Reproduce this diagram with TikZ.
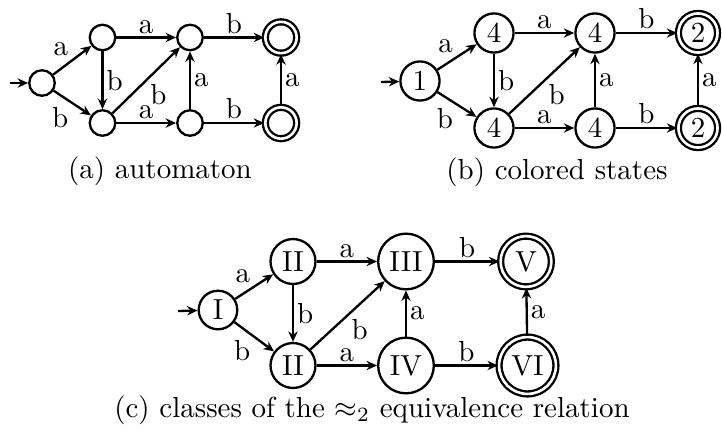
\documentclass[tikz,border=0pt]{standalone}
\usetikzlibrary{arrows.meta}
\begin{document}
\begin{tikzpicture}[x=0.3448pt,y=-0.3448pt,
  >={Stealth[length=3.6pt,width=3.2pt]},
  st/.style={circle, draw, thick, inner sep=0pt},
  fin/.style={st, double, double distance=0.9pt},
  lab/.style={inner sep=1pt, auto},
  conn/.style={thick,->}
]
\useasboundingbox (0,0) rectangle (722,435);

% (a) automaton
\node[st, minimum size=8.8pt] (a0) at (42,83) {};
\node[st, minimum size=8.8pt] (a1) at (102.5,37.5) {};
\node[st, minimum size=8.8pt] (a2) at (102.5,123) {};
\node[st, minimum size=8.8pt] (a3) at (190,37.5) {};
\node[st, minimum size=8.8pt] (a4) at (190,123) {};
\node[fin, minimum size=10.8pt] (a5) at (281,37.5) {};
\node[fin, minimum size=10.8pt] (a6) at (281,123) {};
\coordinate (ain) at (10,83);
\draw[conn] (ain) -- (a0);
\draw[conn] (a0) -- node[lab] {a} (a1);
\draw[conn] (a0) -- node[lab, swap] {b} (a2);
\draw[conn] (a1) -- node[lab] {a} (a3);
\draw[conn] (a1) -- node[lab] {b} (a2);
\draw[conn] (a2) -- node[lab, swap] {b} (a3);
\draw[conn] (a2) -- node[lab] {a} (a4);
\draw[conn] (a4) -- node[lab, swap] {a} (a3);
\draw[conn] (a4) -- node[lab] {b} (a6);
\draw[conn] (a3) -- node[lab] {b} (a5);
\draw[conn] (a6) -- node[lab, swap] {a} (a5);
\node[anchor=base] (capa) at (160,178) {(a) automaton};

% (b) colored states
\node[st, minimum size=13.5pt] (b0) at (420,81) {1};
\node[st, minimum size=13.5pt] (b1) at (494,33) {4};
\node[st, minimum size=13.5pt] (b2) at (494,128) {4};
\node[st, minimum size=13.5pt] (b3) at (595,33) {4};
\node[st, minimum size=13.5pt] (b4) at (595,128) {4};
\node[fin, minimum size=13.5pt] (b5) at (698,33) {2};
\node[fin, minimum size=13.5pt] (b6) at (698,128) {2};
\coordinate (bin) at (381,82);
\draw[conn] (bin) -- (b0);
\draw[conn] (b0) -- node[lab] {a} (b1);
\draw[conn] (b0) -- node[lab, swap] {b} (b2);
\draw[conn] (b1) -- node[lab] {a} (b3);
\draw[conn] (b1) -- node[lab] {b} (b2);
\draw[conn] (b2) -- node[lab, swap] {b} (b3);
\draw[conn] (b2) -- node[lab] {a} (b4);
\draw[conn] (b4) -- node[lab, swap] {a} (b3);
\draw[conn] (b4) -- node[lab] {b} (b6);
\draw[conn] (b3) -- node[lab] {b} (b5);
\draw[conn] (b6) -- node[lab, swap] {a} (b5);
\node[anchor=base] (capb) at (557,179) {(b) colored states};

% (c) classes
\node[st, minimum size=13.3pt] (c0) at (218,310) {I};
\node[st, minimum size=15.5pt] (c1) at (293,261.5) {II};
\node[st, minimum size=15.5pt] (c2) at (293,365.5) {II};
\node[st, minimum size=19.2pt] (c3) at (406,261.5) {III};
\node[st, minimum size=19.2pt] (c4) at (406,365.5) {IV};
\node[fin, minimum size=17.5pt] (c5) at (526,261.5) {V};
\node[fin, minimum size=19.6pt] (c6) at (527.5,365.5) {VI};
\coordinate (cin) at (178,311);
\draw[conn] (cin) -- (c0);
\draw[conn] (c0) -- node[lab] {a} (c1);
\draw[conn] (c0) -- node[lab, swap] {b} (c2);
\draw[conn] (c1) -- node[lab] {a} (c3);
\draw[conn] (c1) -- node[lab] {b} (c2);
\draw[conn] (c2) -- node[lab, swap] {b} (c3);
\draw[conn] (c2) -- node[lab] {a} (c4);
\draw[conn] (c4) -- node[lab, swap] {a} (c3);
\draw[conn] (c4) -- node[lab] {b} (c6);
\draw[conn] (c3) -- node[lab] {b} (c5);
\draw[conn] (c6) -- node[lab, swap] {a} (c5);
\node[anchor=base] (capc) at (372,417) {(c) classes of the $\approx_2$ equivalence relation};
\end{tikzpicture}
\end{document}
